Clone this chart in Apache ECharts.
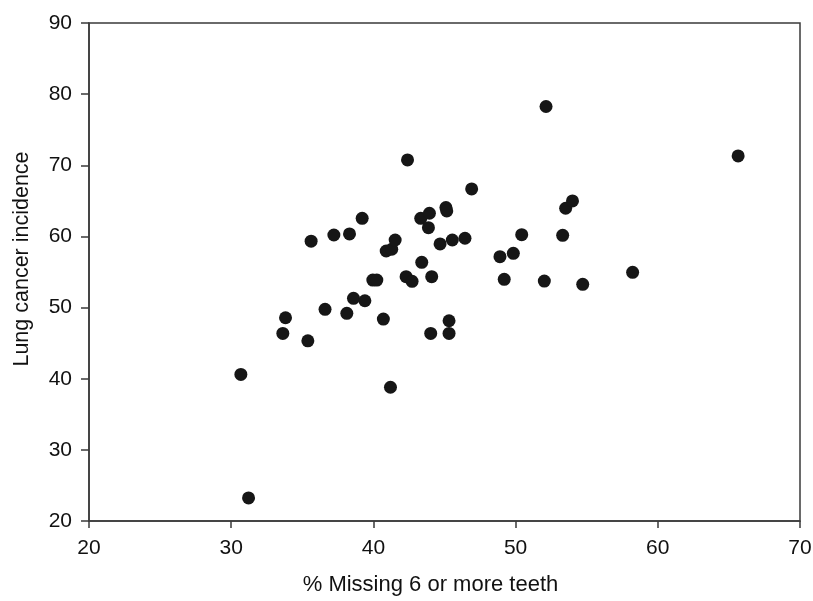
<!DOCTYPE html>
<html>
<head>
<meta charset="utf-8">
<script src="https://cdn.jsdelivr.net/npm/echarts@6/dist/echarts.min.js"></script>
<style>html,body{margin:0;padding:0;background:#fff;}#c{width:813px;height:601px;}</style>
</head>
<body>
<div id="c"></div>
<script>
var missingTeeth = [30.68,31.22,33.63,33.82,35.39,35.62,36.6,37.22,38.13,38.32,38.6,39.21,39.4,39.96,40.24,40.7,40.9,41.2,41.29,41.53,42.4,42.3,42.72,43.4,43.33,43.94,43.87,44.1,44.03,44.69,45.1,45.16,45.32,45.32,45.55,46.44,46.91,48.9,49.2,49.84,50.43,52.02,52.14,53.31,53.52,54.0,54.72,58.23,65.65];
var lungCancer = [40.6,23.24,46.37,48.57,45.33,59.33,49.75,60.2,49.19,60.35,51.3,62.55,50.96,53.87,53.87,48.38,57.95,38.8,58.2,59.5,70.76,54.34,53.69,56.36,62.55,63.26,61.23,54.34,46.37,58.94,64.05,63.58,48.15,46.37,59.5,59.74,66.68,57.15,53.97,57.63,60.25,53.73,78.26,60.16,63.96,64.99,53.27,54.95,71.32];
var xTicks = [20,30,40,50,60,70];
var yTicks = [20,30,40,50,60,70,80,90];

var pts = missingTeeth.map(function(v,i){return [v, lungCancer[i]];});
var chart = echarts.init(document.getElementById('c'));
var font = 'Liberation Sans, Arial, sans-serif';
chart.setOption({
  animation:false,
  backgroundColor:'#fff',
  grid:{left:89,right:13,top:23,bottom:80,outerBoundsMode:'none',containLabel:false,show:true,borderColor:'#3a3a3a',borderWidth:1.5,backgroundColor:'transparent'},
  xAxis:{type:'value',min:xTicks[0],max:xTicks[xTicks.length-1],interval:10,
    name:'% Missing 6 or more teeth',nameLocation:'middle',nameGap:53,
    nameTextStyle:{fontFamily:font,fontSize:22,color:'#111',padding:[0,28,0,0]},
    axisLine:{show:true,lineStyle:{color:'#3a3a3a',width:1.5}},
    axisTick:{show:true,length:7,lineStyle:{color:'#3a3a3a',width:1.5}},
    axisLabel:{fontFamily:font,fontSize:21,color:'#111',margin:17},
    splitLine:{show:false}},
  yAxis:{type:'value',min:yTicks[0],max:yTicks[yTicks.length-1],interval:10,
    name:'Lung cancer incidence',nameLocation:'middle',nameGap:56,
    nameTextStyle:{fontFamily:font,fontSize:21.5,color:'#111',padding:[0,0,0,26]},
    axisLine:{show:true,lineStyle:{color:'#3a3a3a',width:1.5}},
    axisTick:{show:true,length:8,lineStyle:{color:'#3a3a3a',width:1.5}},
    axisLabel:{fontFamily:font,fontSize:21,color:'#111',margin:17},
    splitLine:{show:false}},
  series:[{type:'scatter',data:pts,symbol:'circle',symbolSize:13,
    itemStyle:{color:'#161616',opacity:1}}]
});
</script>
</body>
</html>
